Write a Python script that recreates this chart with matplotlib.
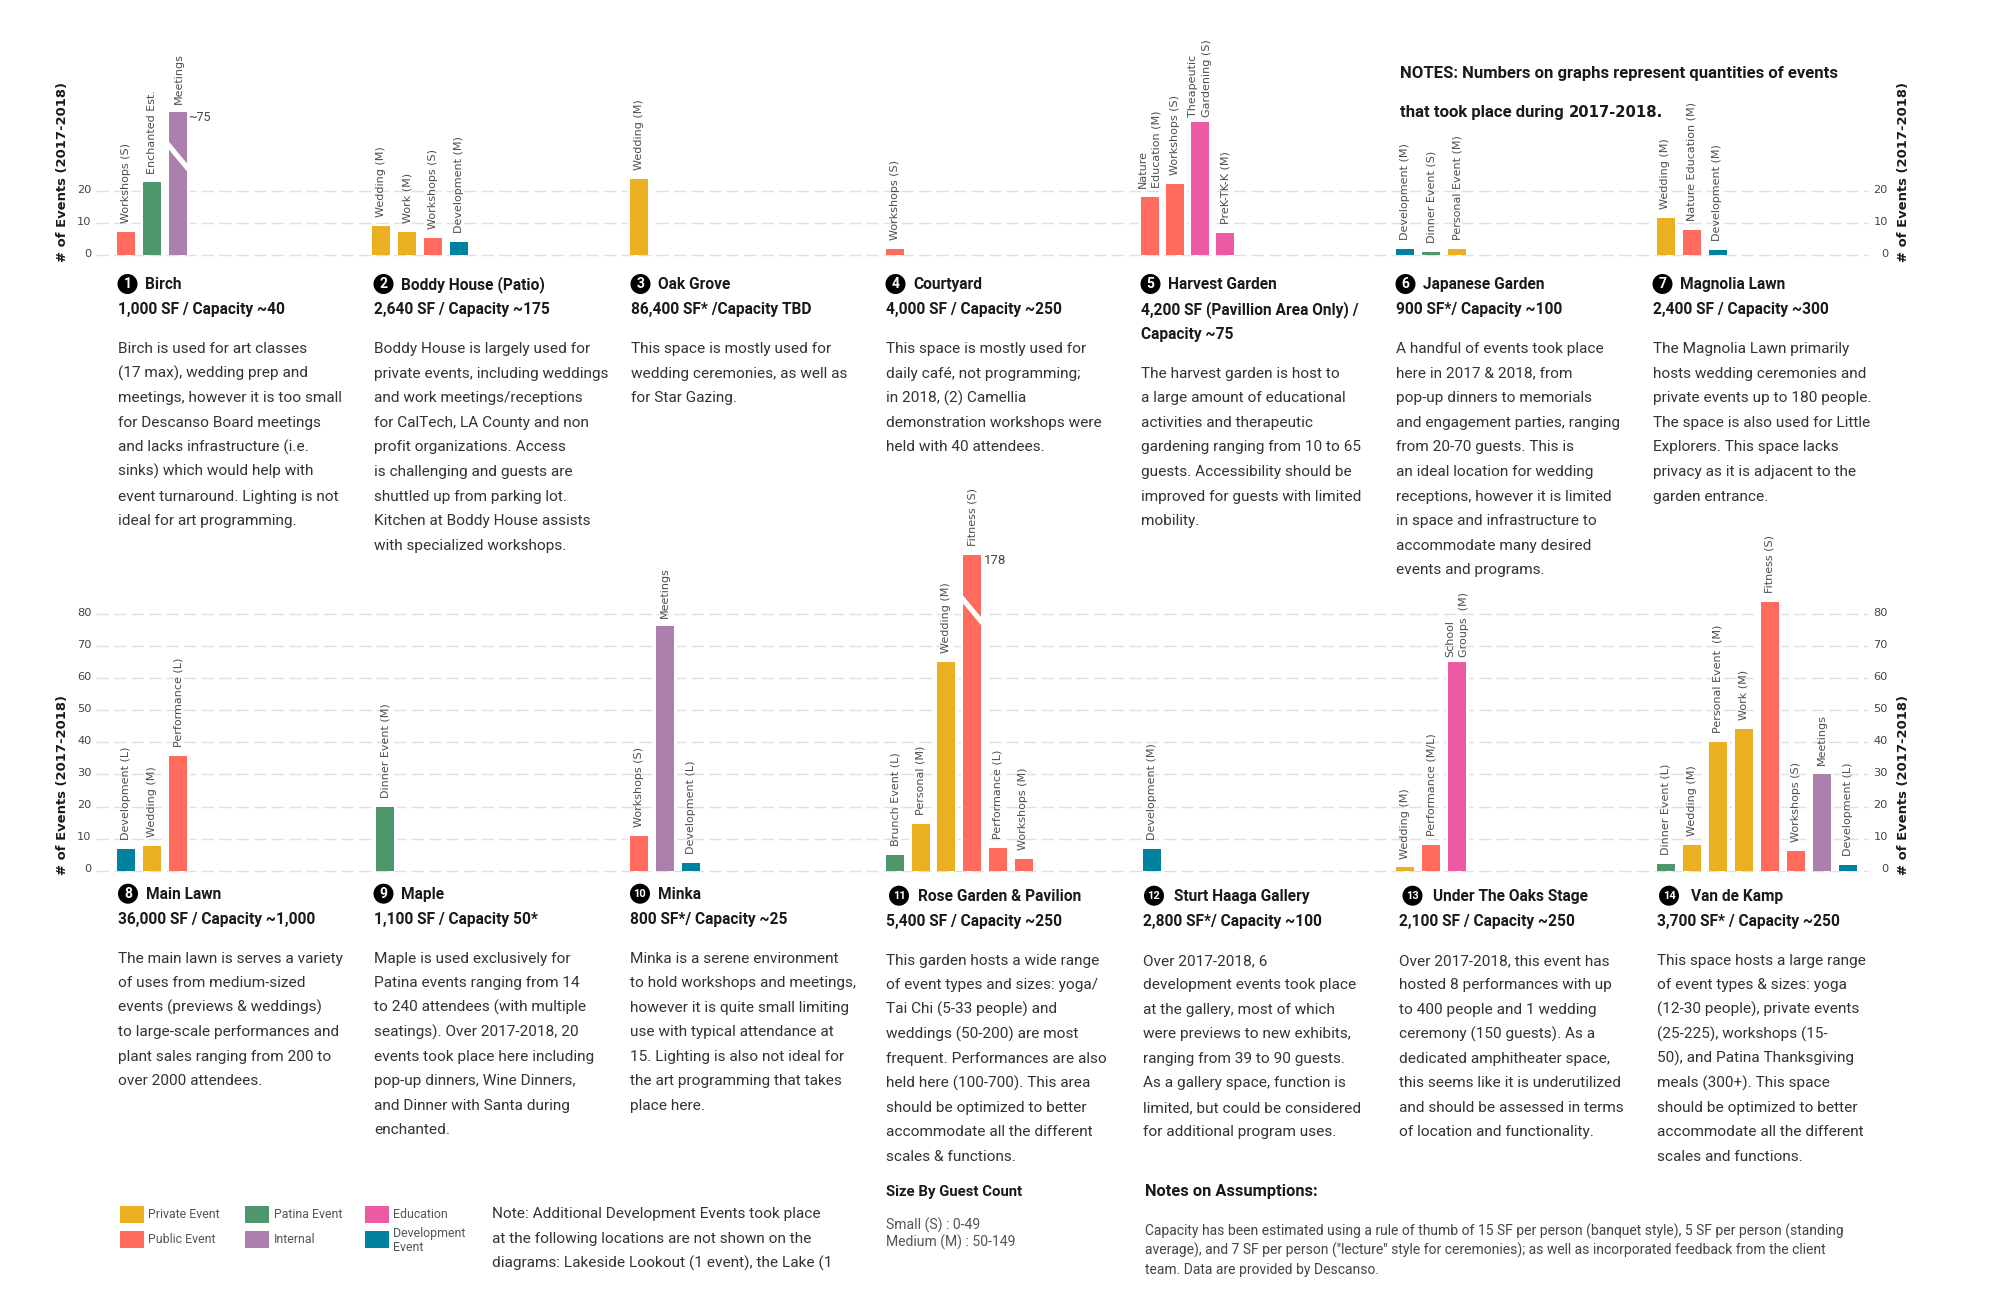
import matplotlib
matplotlib.use("Agg")
from matplotlib import pyplot as plt
from matplotlib.patches import Circle, Polygon, Rectangle

plt.rcParams["lines.scale_dashes"] = False

PRIVATE = "#EBB021"
PUBLIC = "#FF6B5C"
PATINA = "#4E966C"
INTERNAL = "#AB80AC"
EDUCATION = "#EB5AA3"
DEVELOPMENT = "#00819E"

# first row of spaces
top_values = [
    [7.3, 22.6, 44.4],
    [9.1, 7.3, 5.2, 4.2],
    [23.6],
    [2],
    [18.1, 22, 41.5, 7],
    [2, 1, 2],
    [11.5, 7.8, 1.6],
]
top_kinds = [
    [PUBLIC, PATINA, INTERNAL],
    [PRIVATE, PRIVATE, PUBLIC, DEVELOPMENT],
    [PRIVATE],
    [PUBLIC],
    [PUBLIC, PUBLIC, EDUCATION, EDUCATION],
    [DEVELOPMENT, PATINA, PRIVATE],
    [PRIVATE, PUBLIC, DEVELOPMENT],
]
top_labels = [
    ["Workshops (S)", "Enchanted Est.", "Meetings"],
    ["Wedding (M)", "Work (M)", "Workshops (S)", "Development (M)"],
    ["Wedding (M)"],
    ["Workshops (S)"],
    ["Nature\nEducation (M)", "Workshops (S)", "Theapeutic\nGardening (S)", "PreK-TK-K (M)"],
    ["Development (M)", "Dinner Event (S)", "Personal Event (M)"],
    ["Wedding (M)", "Nature Education (M)", "Development (M)"],
]
top_titles = ["Birch", "Boddy House (Patio)", "Oak Grove", "Courtyard", "Harvest Garden",
              "Japanese Garden", "Magnolia Lawn"]
top_subs = [
    ["1,000 SF / Capacity ~40"],
    ["2,640 SF / Capacity ~175"],
    ["86,400 SF* /Capacity TBD"],
    ["4,000 SF / Capacity ~250"],
    ["4,200 SF (Pavillion Area Only) /", "Capacity ~75"],
    ["900 SF*/ Capacity ~100"],
    ["2,400 SF / Capacity ~300"],
]
top_text = [
    ["Birch is used for art classes", "(17 max), wedding prep and", "meetings, however it is too small",
     "for Descanso Board meetings", "and lacks infrastructure (i.e.", "sinks) which would help with",
     "event turnaround. Lighting is not", "ideal for art programming."],
    ["Boddy House is largely used for", "private events, including weddings",
     "and work meetings/receptions", "for CalTech, LA County and non", "profit organizations. Access",
     "is challenging and guests are", "shuttled up from parking lot.", "Kitchen at Boddy House assists",
     "with specialized workshops."],
    ["This space is mostly used for", "wedding ceremonies, as well as", "for Star Gazing."],
    ["This space is mostly used for", "daily café, not programming;", "in 2018, (2) Camellia",
     "demonstration workshops were", "held with 40 attendees."],
    ["The harvest garden is host to", "a large amount of educational", "activities and therapeutic",
     "gardening ranging from 10 to 65", "guests. Accessibility should be",
     "improved for guests with limited", "mobility."],
    ["A handful of events took place", "here in 2017 & 2018, from", "pop-up dinners to memorials",
     "and engagement parties, ranging", "from 20-70 guests. This is", "an ideal location for wedding",
     "receptions, however it is limited", "in space and infrastructure to",
     "accommodate many desired", "events and programs."],
    ["The Magnolia Lawn primarily", "hosts wedding ceremonies and", "private events up to 180 people.",
     "The space is also used for Little", "Explorers. This space lacks",
     "privacy as it is adjacent to the", "garden entrance."],
]

# second row of spaces
bottom_values = [
    [6.9, 7.7, 35.8],
    [20],
    [10.8, 76.1, 2.4],
    [4.8, 14.5, 64.9, 98.3, 7.2, 3.6],
    [6.9],
    [1, 8.1, 65.1],
    [2.1, 8.1, 40.2, 44.2, 83.8, 6.1, 30.2, 1.9],
]
bottom_kinds = [
    [DEVELOPMENT, PRIVATE, PUBLIC],
    [PATINA],
    [PUBLIC, INTERNAL, DEVELOPMENT],
    [PATINA, PRIVATE, PRIVATE, PUBLIC, PUBLIC, PUBLIC],
    [DEVELOPMENT],
    [PRIVATE, PUBLIC, EDUCATION],
    [PATINA, PRIVATE, PRIVATE, PRIVATE, PUBLIC, PUBLIC, INTERNAL, DEVELOPMENT],
]
bottom_labels = [
    ["Development (L)", "Wedding (M)", "Performance (L)"],
    ["Dinner Event (M)"],
    ["Workshops (S)", "Meetings", "Development (L)"],
    ["Brunch Event (L)", "Personal (M)", "Wedding (M)", "Fitness (S)", "Performance (L)", "Workshops (M)"],
    ["Development (M)"],
    ["Wedding (M)", "Performance (M/L)", "School\nGroups  (M)"],
    ["Dinner Event (L)", "Wedding (M)", "Personal Event  (M)", "Work (M)", "Fitness (S)",
     "Workshops (S)", "Meetings", "Development (L)"],
]
bottom_titles = ["Main Lawn", "Maple", "Minka", "Rose Garden & Pavilion", "Sturt Haaga Gallery",
                 "Under The Oaks Stage", "Van de Kamp"]
bottom_subs = [
    ["36,000 SF / Capacity ~1,000"],
    ["1,100 SF / Capacity 50*"],
    ["800 SF*/ Capacity ~25"],
    ["5,400 SF / Capacity ~250"],
    ["2,800 SF*/ Capacity ~100"],
    ["2,100 SF / Capacity ~250"],
    ["3,700 SF* / Capacity ~250"],
]
bottom_text = [
    ["The main lawn is serves a variety", "of uses from medium-sized", "events (previews & weddings)",
     "to large-scale performances and", "plant sales ranging from 200 to", "over 2000 attendees."],
    ["Maple is used exclusively for", "Patina events ranging from 14", "to 240 attendees (with multiple",
     "seatings). Over 2017-2018, 20", "events took place here including", "pop-up dinners, Wine Dinners,",
     "and Dinner with Santa during", "enchanted."],
    ["Minka is a serene environment", "to hold workshops and meetings,", "however it is quite small limiting",
     "use with typical attendance at", "15. Lighting is also not ideal for", "the art programming that takes",
     "place here."],
    ["This garden hosts a wide range", "of event types and sizes: yoga/", "Tai Chi (5-33 people) and",
     "weddings (50-200) are most", "frequent. Performances are also", "held here (100-700). This area",
     "should be optimized to better", "accommodate all the different", "scales & functions."],
    ["Over 2017-2018, 6", "development events took place", "at the gallery, most of which",
     "were previews to new exhibits,", "ranging from 39 to 90 guests.", "As a gallery space, function is",
     "limited, but could be considered", "for additional program uses."],
    ["Over 2017-2018, this event has", "hosted 8 performances with up", "to 400 people and 1 wedding",
     "ceremony (150 guests). As a", "dedicated amphitheater space,", "this seems like it is underutilized",
     "and should be assessed in terms", "of location and functionality."],
    ["This space hosts a large range", "of event types & sizes: yoga", "(12-30 people), private events",
     "(25-225), workshops (15-", "50), and Patina Thanksgiving", "meals (300+). This space",
     "should be optimized to better", "accommodate all the different", "scales and functions."],
]

top_ticks = [0, 10, 20]
bottom_ticks = [0, 10, 20, 30, 40, 50, 60, 70, 80]

legend_names = ["Private Event", "Public Event", "Patina Event", "Internal", "Education", "Development\nEvent"]
legend_colors = [PRIVATE, PUBLIC, PATINA, INTERNAL, EDUCATION, DEVELOPMENT]

note_lines = ["Note: Additional Development Events took place", "at the following locations are not shown on the",
              "diagrams: Lakeside Lookout (1 event), the Lake (1"]
size_lines = ["Small (S) : 0-49", "Medium (M) : 50-149"]
assumption_lines = [
    "Capacity has been estimated using a rule of thumb of 15 SF per person (banquet style), 5 SF per person (standing",
    "average), and 7 SF per person (\"lecture\" style for ceremonies); as well as incorporated feedback from the client",
    "team. Data are provided by Descanso.",
]

# layout, in pixels of the 2000x1294 picture
W, H = 2000, 1294
UNIT = 3.21
TOP_ZERO, BOTTOM_ZERO = 255, 870.7
top_x = [117.4, 372, 630, 886, 1141, 1396.4, 1656.5]
top_step = [26, 26, 26, 26, 25, 26, 26]
bottom_x = [117.4, 376, 630, 886, 1143, 1396.4, 1656.7]
bottom_step = [26, 26, 26, 25.7, 26, 26, 26]
top_col = [118, 374, 631, 886, 1141, 1396, 1653]
bottom_col = [118, 374, 630, 886.5, 1143, 1399, 1657]
bottom_circle = [128, 383.5, 640, 899, 1154, 1412.5, 1669]
bottom_name = [146, 401, 658, 918, 1174.5, 1433, 1690.6]
BODY = "Roboto"
BODY_SIZE = 11.1
LINE = 24.6

fig = plt.figure(figsize=(20, 12.94), dpi=100, facecolor="white")


def chart_axes(zero):
    ax = fig.add_axes([0, 0, 1, 1])
    ax.set_xlim(0, W)
    ax.set_ylim((zero - H) / UNIT, zero / UNIT)
    ax.axis("off")
    ax.patch.set_alpha(0)
    return ax


def draw_row(ax, xs, steps, values, kinds, labels, ticks):
    ax.hlines(ticks, 96, 1868, color="#e0e0e0", linewidth=1.0, linestyles=(0, (9, 3.6)), zorder=1)
    for t in ticks:
        ax.text(91.5, t + 0.4, str(t), ha="right", va="center", fontsize=8.2, color="#444444",
                family="DejaVu Sans")
        ax.text(1888, t + 0.4, str(t), ha="right", va="center", fontsize=8.2, color="#444444",
                family="DejaVu Sans")
    for x0, step, vals, cols, labs in zip(xs, steps, values, kinds, labels):
        for i, (v, c, lab) in enumerate(zip(vals, cols, labs)):
            x = x0 + i * step + 9
            # white halo cuts the dashed grid around each bar
            ax.bar(x, v + 0.6, width=23, color="white", zorder=2)
            ax.bar(x, v, width=18, color=c, zorder=3)
            gap = 3.6 if lab.startswith(("Theapeutic", "School")) else 6.4
            ax.annotate(lab, (x, v), xytext=(0, gap), textcoords="offset points", rotation=90,
                        ha="center", va="bottom", multialignment="left", linespacing=1.45,
                        fontsize=8.0, color="#4d4d4d", family="DejaVu Sans", zorder=4)


def draw_break(ax, x, value, below):
    # white slash through a bar whose real value is off the scale
    drop, thick = 6.9, 2.5
    top = value - below
    ax.add_patch(Polygon([(x - 1, top + 0.3), (x + 19, top - drop - 0.3),
                          (x + 19, top - drop - thick - 0.3), (x - 1, top - thick + 0.3)],
                         facecolor="white", edgecolor="none", zorder=5))


ax_top = chart_axes(TOP_ZERO)
ax_bottom = chart_axes(BOTTOM_ZERO)
draw_row(ax_top, top_x, top_step, top_values, top_kinds, top_labels, top_ticks)
draw_row(ax_bottom, bottom_x, bottom_step, bottom_values, bottom_kinds, bottom_labels, bottom_ticks)

draw_break(ax_top, top_x[0] + 2 * top_step[0], top_values[0][2], 9.2)
draw_break(ax_bottom, bottom_x[3] + 3 * bottom_step[3], bottom_values[3][3], 12.5)
ax_top.annotate("~75", (top_x[0] + 2 * top_step[0] + 18, top_values[0][2]), xytext=(0.5, -3.5),
                textcoords="offset points", ha="left", va="center", fontsize=9, color="#444444",
                family=BODY, zorder=6)
ax_bottom.annotate("178", (bottom_x[3] + 3 * bottom_step[3] + 18, bottom_values[3][3]), xytext=(2, -4),
                   textcoords="offset points", ha="left", va="center", fontsize=9.5, color="#444444",
                   family=BODY, zorder=6)

# page axes for all the text, one unit is one pixel
page = fig.add_axes([0, 0, 1, 1])
page.set_xlim(0, W)
page.set_ylim(H, 0)
page.axis("off")
page.patch.set_alpha(0)


def line(x, y, s, size=BODY_SIZE, weight="normal", color="#333333", family=BODY):
    page.text(x, y + size * 0.45, s, ha="left", va="baseline", fontsize=size, fontweight=weight,
              color=color, family=family)


def marker(cx, cy, n):
    page.add_patch(Circle((cx, cy), 10, facecolor="black", edgecolor="none"))
    page.text(cx, cy + 0.3, str(n), ha="center", va="center", fontsize=10 if n < 10 else 8,
              fontweight="bold", color="white", family="Roboto")


n = 1
for x, title, subs, body in zip(top_col, top_titles, top_subs, top_text):
    marker(x + 9.5, 284, n)
    line(x + 27, 284, title, size=11.2, weight="bold", color="#1a1a1a")
    for k, s in enumerate(subs):
        line(x, 309 + k * LINE, s, size=11.2, weight="bold", color="#1a1a1a")
    y0 = 348 + (len(subs) - 1) * LINE
    for k, s in enumerate(body):
        line(x, y0 + k * LINE, s)
    n += 1

for i, (x, title, subs, body) in enumerate(zip(bottom_col, bottom_titles, bottom_subs, bottom_text)):
    shift = 0 if i < 3 else 2
    marker(bottom_circle[i], 893.7 + shift, n)
    line(bottom_name[i], 894 + shift, title, size=11.2, weight="bold", color="#1a1a1a")
    line(x, 918.7 + shift, subs[0], size=11.2, weight="bold", color="#1a1a1a")
    for k, s in enumerate(body):
        line(x, 958 + shift + k * 24.5, s)
    n += 1

# axis titles on both sides
for x in [62.5, 1904]:
    for y in [172, 785]:
        page.text(x, y, "# of Events (2017-2018)", rotation=90, ha="center", va="center",
                  fontsize=9.43, fontweight="bold", color="#1a1a1a", family="DejaVu Sans")

line(1400, 73, "NOTES: Numbers on graphs represent quantities of events", size=11.95, weight="bold", color="#1a1a1a")
line(1400, 112, "that took place during", size=11.95, weight="bold", color="#1a1a1a")
line(1569, 112, "2017-2018.", size=10.7, weight="bold", color="#1a1a1a", family="DejaVu Sans")

# legend
legend_x = [120, 120, 245, 245, 365, 365]
legend_y = [1205.7, 1230.7, 1205.7, 1230.7, 1205.7, 1230.7]
for name, col, x, y in zip(legend_names, legend_colors, legend_x, legend_y):
    page.add_patch(Rectangle((x, y), 23.5, 17, facecolor=col, edgecolor="none"))
    if "\n" in name:
        first, second = name.split("\n")
        line(x + 28.5, 1232.7, first, size=8.9, color="#555555")
        line(x + 28.5, 1247, second, size=8.9, color="#555555")
    else:
        line(x + 28.5, y + 8.5, name, size=8.9, color="#555555")

for k, s in enumerate(note_lines):
    line(491.8, 1213 + k * 24.7, s)
line(886, 1191, "Size By Guest Count", size=10.7, weight="bold", color="#1a1a1a")
line(886, 1225, size_lines[0], size=10.1, color="#555555")
line(886, 1242.3, size_lines[1], size=10.1, color="#555555")
line(1145.4, 1190.7, "Notes on Assumptions:", size=11.8, weight="bold", color="#1a1a1a")
for k, s in enumerate(assumption_lines):
    line(1145.4, 1230.7 + k * 19.6, s, size=10.0, color="#444444")

fig.savefig("out.png", dpi=100, facecolor="white")
